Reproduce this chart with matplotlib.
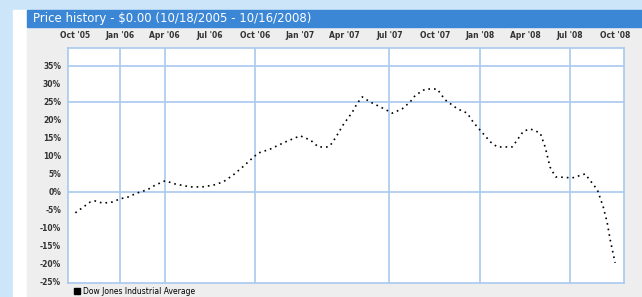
import matplotlib
matplotlib.use("Agg")
import matplotlib.pyplot as plt
from matplotlib.patches import Rectangle, Patch
import numpy as np

# data (percent change, Dow Jones Industrial Average)
dates = ["2005-10-02", "2005-10-16", "2005-11-01", "2005-11-11", "2005-11-17", "2005-11-28",
         "2005-12-16", "2006-01-01", "2006-01-17", "2006-02-04", "2006-02-25", "2006-03-13",
         "2006-04-02", "2006-04-23", "2006-05-23", "2006-06-16", "2006-07-09", "2006-07-29",
         "2006-08-18", "2006-09-06", "2006-09-26", "2006-10-08", "2006-11-01", "2006-12-02",
         "2007-01-01", "2007-01-22", "2007-02-07", "2007-02-27", "2007-03-07", "2007-03-17",
         "2007-03-29", "2007-04-17", "2007-04-27", "2007-05-07", "2007-05-23", "2007-06-13",
         "2007-07-07", "2007-07-27", "2007-08-12", "2007-08-23", "2007-09-12", "2007-10-06",
         "2007-10-22", "2007-11-16", "2007-12-06", "2007-12-18", "2008-01-06", "2008-01-22",
         "2008-02-05", "2008-03-06", "2008-03-12", "2008-03-29", "2008-04-12", "2008-05-02",
         "2008-05-12", "2008-05-22", "2008-06-02", "2008-07-06", "2008-08-01", "2008-08-26",
         "2008-09-07", "2008-09-15", "2008-09-21", "2008-10-01"]
dow_pct = [-5.8, -4.4, -2.8, -2.5, -2.8, -3.1,
           -2.8, -1.9, -1.4, -0.3, 0.6, 1.9,
           3.1, 2.2, 1.4, 1.4, 1.9, 2.8,
           4.7, 6.9, 9.4, 10.8, 11.9, 13.9,
           15.6, 14.4, 12.5, 12.5, 13.6, 15.8,
           18.6, 22.2, 24.7, 26.4, 25.0, 23.6,
           21.9, 23.1, 25.0, 26.9, 28.6, 28.6,
           25.6, 23.1, 21.9, 19.4, 16.4, 13.9,
           12.5, 12.5, 13.6, 16.9, 17.5, 16.4,
           12.5, 6.9, 4.2, 3.9, 5.0, 0.6,
           -4.2, -8.6, -13.3, -19.7]

tick_dates = ["2005-10-01", "2006-01-01", "2006-04-01", "2006-07-01", "2006-10-01",
              "2007-01-01", "2007-04-01", "2007-07-01", "2007-10-01", "2008-01-01",
              "2008-04-01", "2008-07-01", "2008-10-01"]
tick_labels = ["Oct '05", "Jan '06", "Apr '06", "Jul '06", "Oct '06", "Jan '07", "Apr '07",
               "Jul '07", "Oct '07", "Jan '08", "Apr '08", "Jul '08", "Oct '08"]
vgrid_dates = ["2006-01-01", "2006-04-01", "2006-10-01", "2007-07-01", "2008-01-01", "2008-07-01"]
y_ticks = [35, 30, 25, 20, 15, 10, 5, 0, -5, -10, -15, -20, -25]
hgrid = [35, 25, 0]

W, H = 642, 297
fig = plt.figure(figsize=(W / 100, H / 100), dpi=100)
fig.patch.set_facecolor("#cde5f8")

def px_rect(x0, y0, x1, y1, color):
    fig.patches.append(Rectangle((x0 / W, 1 - y1 / H), (x1 - x0) / W, (y1 - y0) / H,
                                 transform=fig.transFigure, color=color, zorder=-5))

px_rect(13, 10, 27, 297, "white")
px_rect(27, 27, 642, 297, "#eeeeee")
px_rect(27, 10, 642, 27, "#3b87d6")
fig.text(33 / W, 1 - 18.5 / H, "Price history - $0.00 (10/18/2005 - 10/16/2008)",
         color="white", fontsize=8.5, va="center", ha="left")

left, top, right, bottom = 68, 48, 624, 283
ax = fig.add_axes([left / W, 1 - bottom / H, (right - left) / W, (bottom - top) / H])
ax.set_zorder(5)
ax.set_facecolor("white")

grid_c = "#a9c9ee"
for d in vgrid_dates:
    ax.axvline(np.datetime64(d), color=grid_c, lw=1.2, zorder=1)
for v in hgrid:
    ax.axhline(v, color=grid_c, lw=1.2, zorder=1)

x = np.array(dates, dtype="datetime64[D]")
ax.plot(x, dow_pct, color="black", ls=(0, (1, 2.4)), lw=1.2, zorder=3)

ax.set_xlim(np.datetime64("2005-09-17"), np.datetime64("2008-10-19"))
ax.set_ylim(-25.3, 40)

ax.xaxis.tick_top()
ax.set_xticks(np.array(tick_dates, dtype="datetime64[D]"))
ax.set_xticklabels(tick_labels, fontsize=5.5, fontweight="bold", color="#333333")
ax.set_xticks(np.array(vgrid_dates, dtype="datetime64[D]"), minor=True)
ax.tick_params(axis="x", which="major", length=0, pad=6)
ax.tick_params(axis="x", which="minor", length=3, direction="in", color="#333333")

ax.set_yticks(y_ticks)
ax.set_yticklabels([f"{v}%" for v in y_ticks], fontsize=5.5, fontweight="bold", color="#333333")
ax.tick_params(axis="y", length=0, pad=5)

for s in ax.spines.values():
    s.set_color(grid_c)
    s.set_linewidth(1.2)

ax.legend(handles=[Patch(color="black", label="Dow Jones Industrial Average")],
          loc="center left", bbox_to_anchor=(70 / W, 1 - 291 / H),
          bbox_transform=fig.transFigure, frameon=False, fontsize=5.5,
          handlelength=0.8, handleheight=0.8, handletextpad=0.4, borderpad=0)

fig.savefig("out.png", dpi=100, facecolor=fig.get_facecolor())
